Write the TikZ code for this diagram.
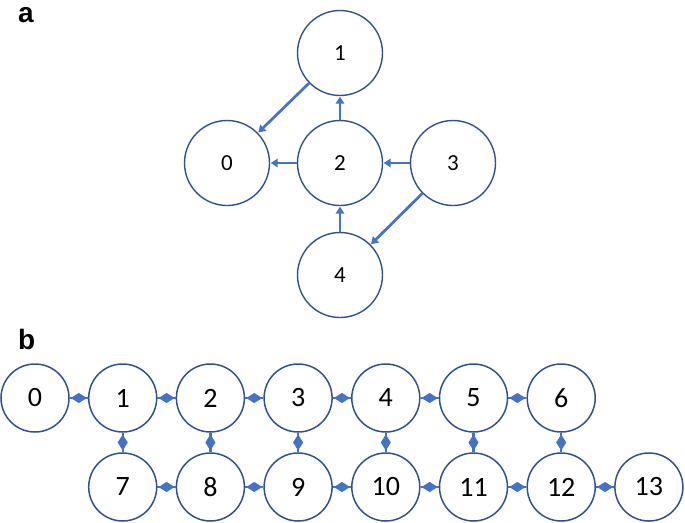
\documentclass[tikz,border=0pt]{standalone}
\usepackage{fontspec}
\setmainfont{Carlito}
\newfontfamily\lblfont{Liberation Sans}
\usetikzlibrary{arrows.meta,shapes.geometric}
\definecolor{ring}{HTML}{2F528F}
\definecolor{link}{HTML}{4472C4}
\tikzset{
  bignode/.style={circle,draw=ring,line width=1.4pt,minimum size=85pt,inner sep=0pt,font=\fontsize{23}{23}\selectfont},
  smallnode/.style={circle,draw=ring,line width=1.5pt,minimum size=68pt,inner sep=0pt,font=\fontsize{28}{28}\selectfont},
  arr/.style={draw=link,line width=2.7pt,-{Triangle[length=7pt,width=8.5pt]},shorten >=0.5pt},
  dlink/.style={draw=link,line width=2.2pt},
  dmark/.style={diamond,fill=link,draw=none,inner sep=0pt,minimum width=17pt,minimum height=11pt,sloped,midway},
  panel/.style={font=\lblfont\bfseries\fontsize{28}{28}\selectfont,anchor=base west,inner sep=0pt}
}
\begin{document}
\begin{tikzpicture}[x=1pt,y=-1pt]
\useasboundingbox (0,0) rectangle (685,522);
\node[panel] (la) at (18,23) {a};
\node[panel] (lb) at (18,349) {b};
% part a
\node[bignode] (a1) at (340,53) {1};
\node[bignode] (a0) at (227,163) {0};
\node[bignode] (a2) at (340,163) {2};
\node[bignode] (a3) at (453,163) {3};
\node[bignode] (a4) at (340,275) {4};
\draw[arr] (a1) -- (a0);
\draw[arr] (a2) -- (a1);
\draw[arr] (a2) -- (a0);
\draw[arr] (a3) -- (a2);
\draw[arr] (a4) -- (a2);
\draw[arr] (a3) -- (a4);
% part b
\foreach \i in {0,...,6}{
  \node[smallnode] (b\i) at ({35+87.7*\i},398) {\i};
}
\foreach \i [evaluate=\i as \n using int(\i+6)] in {1,...,7}{
  \node[smallnode] (b\n) at ({35+87.7*\i},487) {\n};
}
\foreach \i [evaluate=\i as \j using int(\i+1)] in {0,...,5}{
  \draw[dlink] (b\i) -- node[dmark] {} (b\j);
}
\foreach \i [evaluate=\i as \j using int(\i+1)] in {7,...,12}{
  \draw[dlink] (b\i) -- node[dmark] {} (b\j);
}
\foreach \i [evaluate=\i as \j using int(\i+6)] in {1,...,6}{
  \draw[dlink] (b\i) -- node[dmark] {} (b\j);
}
\end{tikzpicture}
\end{document}
